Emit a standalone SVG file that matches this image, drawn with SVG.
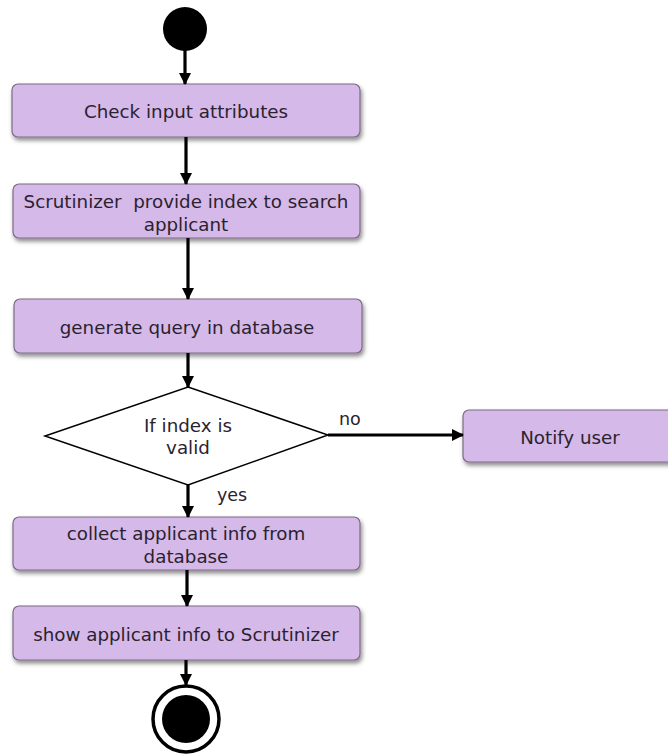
<svg xmlns="http://www.w3.org/2000/svg" width="668" height="756" viewBox="0 0 668 756">
<defs>
<filter id="sh" x="-10%" y="-20%" width="130%" height="160%">
<feDropShadow dx="1.5" dy="3" stdDeviation="2" flood-color="#000" flood-opacity="0.45"/>
</filter>
<marker id="ah" markerUnits="userSpaceOnUse" markerWidth="12" markerHeight="12" viewBox="0 0 12 12" refX="11" refY="6" orient="auto">
<path d="M0,0 L12,6 L0,12 Z" fill="#000"/>
</marker>
<style>
.box{fill:#d5b9e9;stroke:#7d6b86;stroke-width:1.2;filter:url(#sh)}
.t{font-family:"DejaVu Sans",sans-serif;font-size:18.3px;fill:#2b2230;text-anchor:middle;dominant-baseline:central}
.lbl{font-family:"DejaVu Sans",sans-serif;font-size:17.5px;fill:#2b2230}
.c{stroke:#000;stroke-width:3.2;fill:none;marker-end:url(#ah)}
</style>
</defs>
<rect width="668" height="756" fill="#fff"/>
<g id="start"><circle cx="185" cy="29" r="22" fill="#000"/></g>
<g id="n1"><rect class="box" x="12" y="84" width="348" height="53" rx="6"/><text class="t" x="186" y="111">Check input attributes</text></g>
<g id="n2"><rect class="box" x="13" y="184" width="347" height="54" rx="6"/><text class="t" x="186" y="201" xml:space="preserve">Scrutinizer  provide index to search</text><text class="t" x="186" y="224">applicant</text></g>
<g id="n3"><rect class="box" x="14" y="299" width="348" height="54" rx="6"/><text class="t" x="187" y="327">generate query in database</text></g>
<g id="d1"><polygon points="188,387 328,435 188,485 45,436" fill="#fff" stroke="#000" stroke-width="1.5"/><text class="t" x="188" y="425">If index is</text><text class="t" x="188" y="447">valid</text></g>
<g id="n4"><rect class="box" x="463" y="410" width="215" height="52" rx="6"/><text class="t" x="570" y="437">Notify user</text></g>
<g id="n5"><rect class="box" x="13" y="517" width="347" height="53" rx="6"/><text class="t" x="186" y="533">collect applicant info from</text><text class="t" x="186" y="556">database</text></g>
<g id="n6"><rect class="box" x="13" y="606" width="347" height="54" rx="6"/><text class="t" x="186" y="634">show applicant info to Scrutinizer</text></g>
<g id="end"><circle cx="186" cy="719" r="33" fill="#fff" stroke="#000" stroke-width="3.5"/><circle cx="186" cy="719" r="24" fill="#000"/></g>
<g id="connectors">
<line class="c" x1="185" y1="50" x2="185" y2="84"/>
<line class="c" x1="186" y1="137" x2="186" y2="184"/>
<line class="c" x1="188" y1="238" x2="188" y2="299"/>
<line class="c" x1="188" y1="353" x2="188" y2="387"/>
<line class="c" x1="328" y1="435" x2="463" y2="435"/>
<line class="c" x1="188" y1="485" x2="188" y2="517"/>
<line class="c" x1="187" y1="570" x2="187" y2="606"/>
<line class="c" x1="186" y1="660" x2="186" y2="685"/>
<text class="lbl" x="339" y="425">no</text>
<text class="lbl" x="217" y="501">yes</text>
</g>
</svg>
